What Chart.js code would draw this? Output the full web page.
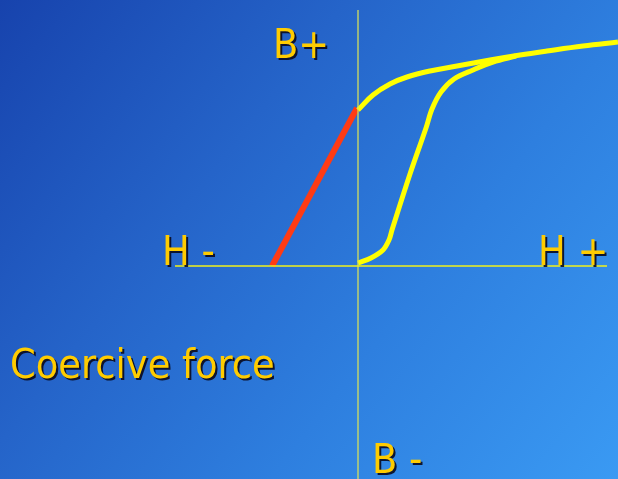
<!DOCTYPE html>
<html>
<head>
<meta charset="utf-8">
<script src="https://cdn.jsdelivr.net/npm/chart.js@4.4.1/dist/chart.umd.min.js"></script>
<style>
html,body{margin:0;padding:0;}
body{width:618px;height:479px;overflow:hidden;background:linear-gradient(128deg,#1743ad 0%,#2564c9 35%,#2e7fdf 65%,#3a9af3 100%);}
#wrap{width:618px;height:479px;position:relative;}
</style>
</head>
<body>
<div id="wrap"><canvas id="c" width="618" height="479"></canvas></div>
<script>
// Magnetization (hysteresis) sketch, H and B in arbitrary units
const hAxisH = [-1.83, 2.49];
const hAxisB = [0, 0];
const bAxisH = [0, 0];
const bAxisB = [-2.13, 2.56];

// upper branch (saturation curve)
const upperH = [0, 0.15, 0.32, 0.49, 0.72, 0.99, 1.32, 1.62, 1.89, 2.25, 2.60];
const upperB = [1.56, 1.71, 1.82, 1.89, 1.95, 2.00, 2.06, 2.11, 2.15, 2.20, 2.24];

// initial magnetization curve
const initH = [0, 0.13, 0.25, 0.31, 0.34, 0.52, 0.68, 0.74, 0.83, 0.96, 1.15, 1.35, 1.58];
const initB = [0.03, 0.08, 0.16, 0.26, 0.36, 0.92, 1.38, 1.57, 1.74, 1.87, 1.96, 2.04, 2.10];

// coercive force line (red)
const coerH = [-0.86, -0.01];
const coerB = [0, 1.58];

const labels = [
  {text: 'B+', h: -0.85, b: 2.08},
  {text: 'H -', h: -1.96, b: 0.01},
  {text: 'H +', h: 1.80, b: 0.01},
  {text: 'B -', h: 0.14, b: -2.07},
  {text: 'Coercive force', h: -3.48, b: -1.12}
];

const pts = (xs, ys) => xs.map((x, i) => ({x: x, y: ys[i]}));

const textPlugin = {
  id: 'labelsText',
  afterDatasetsDraw(chart) {
    const ctx = chart.ctx;
    const xs = chart.scales.x, ys = chart.scales.y;
    ctx.save();
    ctx.font = '41px "DejaVu Sans Condensed", "DejaVu Sans", sans-serif';
    ctx.textAlign = 'left';
    ctx.textBaseline = 'alphabetic';
    labels.forEach(l => {
      const px = xs.getPixelForValue(l.h), py = ys.getPixelForValue(l.b);
      ctx.fillStyle = 'rgba(10,10,30,0.9)';
      ctx.fillText(l.text, px + 2, py + 2);
      ctx.fillStyle = '#ffcc00';
      ctx.fillText(l.text, px, py);
    });
    ctx.restore();
  }
};

new Chart(document.getElementById('c'), {
  type: 'scatter',
  data: {
    datasets: [
      {data: pts(hAxisH, hAxisB), showLine: true, borderColor: '#f2f21a', borderWidth: 1.5, pointRadius: 0},
      {data: pts(bAxisH, bAxisB), showLine: true, borderColor: 'rgba(215,225,90,0.85)', borderWidth: 1.5, pointRadius: 0},
      {data: pts(upperH, upperB), showLine: true, borderColor: '#ffff00', borderWidth: 5, pointRadius: 0, tension: 0.4},
      {data: pts(initH, initB), showLine: true, borderColor: '#ffff00', borderWidth: 5, pointRadius: 0, tension: 0.35},
      {data: pts(coerH, coerB), showLine: true, borderColor: '#ff3b14', borderWidth: 6, pointRadius: 0}
    ]
  },
  options: {
    responsive: false,
    animation: false,
    layout: {padding: 0},
    plugins: {legend: {display: false}, tooltip: {enabled: false}},
    scales: {
      x: {type: 'linear', min: -3.58, max: 2.60, display: false},
      y: {type: 'linear', min: -2.13, max: 2.66, display: false}
    },
    elements: {line: {borderCapStyle: 'butt', borderJoinStyle: 'round'}}
  },
  plugins: [textPlugin]
});
</script>
</body>
</html>
